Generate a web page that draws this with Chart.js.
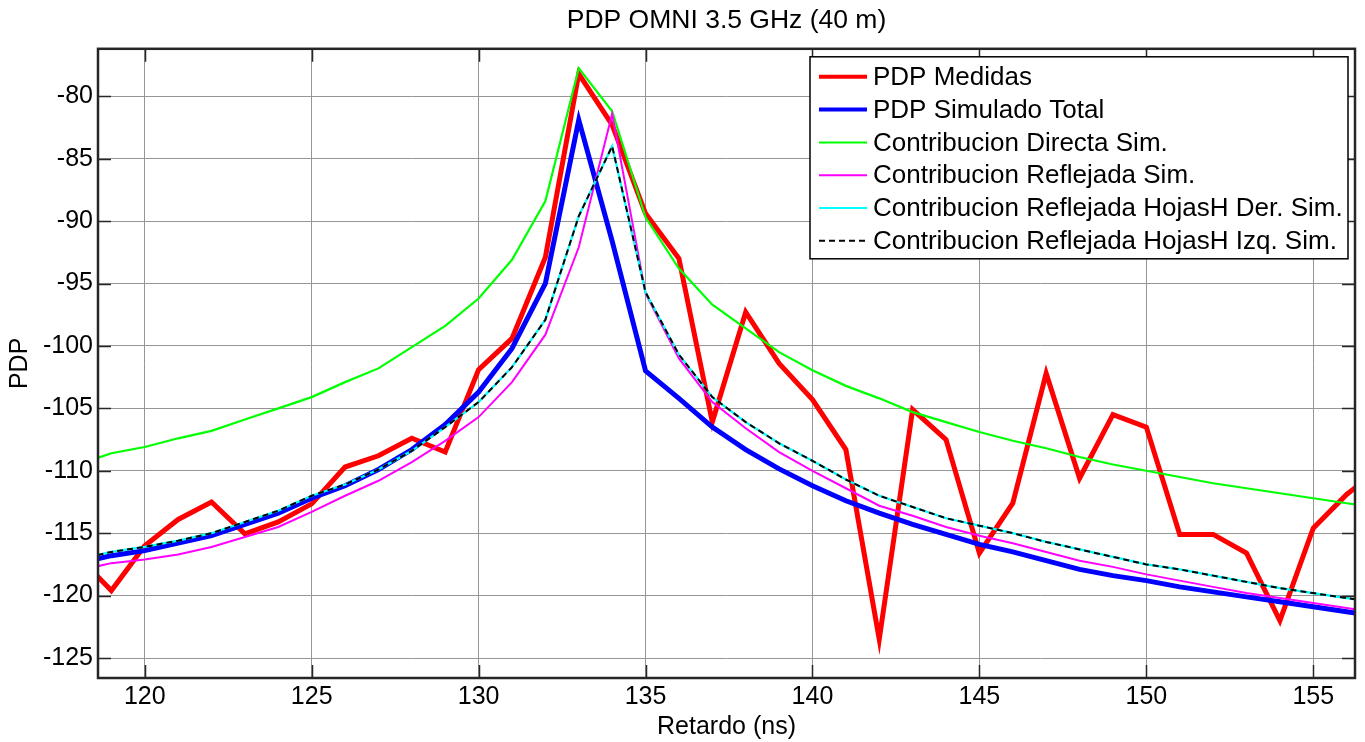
<!DOCTYPE html>
<html>
<head>
<meta charset="utf-8">
<title>PDP OMNI 3.5 GHz (40 m)</title>
<script src="https://cdn.jsdelivr.net/npm/chart.js@4.4.1/dist/chart.umd.min.js"></script>
<style>
    html, body { margin: 0; padding: 0; background: #fff; }
    #wrap { width: 1365px; height: 742px; }
</style>
</head>
<body>
<div id="wrap"><canvas id="pdpChart" width="1365" height="742"></canvas></div>
<script>
// Retardo (ns)
const retardo = [118, 119, 120, 121, 122, 123, 124, 125, 126, 127, 128, 129, 130, 131, 132, 133, 134, 135, 136, 137,
                 138, 139, 140, 141, 142, 143, 144, 145, 146, 147, 148, 149, 150, 151, 152, 153, 154, 155, 156, 157];

const pdpMedidas = [-116.85, -119.6, -116.0, -113.9, -112.5, -115.05, -114.1, -112.65, -109.7, -108.8,
                    -107.4, -108.5, -101.9, -99.4, -92.9, -78.2, -82.3, -89.4, -93.0, -106.1,
                    -97.3, -101.4, -104.3, -108.3, -123.5, -105.1, -107.5, -116.6, -112.6, -102.2,
                    -110.6, -105.5, -106.5, -115.1, -115.1, -116.6, -122.0, -114.6, -111.9, -109.8];

const pdpSimTotal = [-117.4, -116.8, -116.4, -115.8, -115.2, -114.3, -113.4, -112.2, -111.2, -109.9,
                     -108.3, -106.3, -103.7, -100.2, -95.0, -81.9, -91.6, -102.0, -104.2, -106.5,
                     -108.3, -109.85, -111.2, -112.4, -113.4, -114.3, -115.1, -115.9, -116.5, -117.2,
                     -117.9, -118.4, -118.8, -119.3, -119.7, -120.1, -120.5, -120.9, -121.3, -121.7];

const contribDirecta = [-109.5, -108.6, -108.1, -107.4, -106.8, -105.9, -105.0, -104.1, -102.9, -101.8,
                        -100.1, -98.4, -96.2, -93.1, -88.4, -77.75, -81.2, -89.7, -93.8, -96.7,
                        -98.6, -100.5, -101.95, -103.2, -104.2, -105.3, -106.1, -106.9, -107.6, -108.2,
                        -108.9, -109.5, -110.0, -110.5, -111.0, -111.4, -111.8, -112.2, -112.6, -113.0];

const contribReflejada = [-118.0, -117.4, -117.1, -116.7, -116.1, -115.3, -114.5, -113.3, -112.0, -110.8,
                          -109.3, -107.6, -105.7, -102.9, -99.1, -92.1, -81.4, -95.8, -101.0, -104.5,
                          -106.6, -108.5, -110.0, -111.4, -112.8, -113.6, -114.5, -115.2, -115.8, -116.5,
                          -117.2, -117.7, -118.3, -118.8, -119.3, -119.8, -120.2, -120.6, -121.0, -121.4];

const contribHojasDer = [-117.1, -116.5, -116.1, -115.6, -115.0, -114.1, -113.2, -112.0, -111.1, -109.9,
                         -108.4, -106.5, -104.5, -101.7, -97.9, -89.6, -84.0, -95.7, -100.7, -104.1,
                         -106.1, -107.8, -109.2, -110.7, -112.0, -112.9, -113.8, -114.4, -115.0, -115.7,
                         -116.3, -116.9, -117.5, -117.9, -118.4, -118.9, -119.4, -119.8, -120.2, -120.6];

const contribHojasIzq = [-117.1, -116.5, -116.1, -115.6, -115.0, -114.1, -113.2, -112.0, -111.1, -109.9,
                         -108.4, -106.5, -104.5, -101.7, -97.9, -89.6, -84.0, -95.7, -100.7, -104.1,
                         -106.1, -107.8, -109.2, -110.7, -112.0, -112.9, -113.8, -114.4, -115.0, -115.7,
                         -116.3, -116.9, -117.5, -117.9, -118.4, -118.9, -119.4, -119.8, -120.2, -120.6];

const xTicks = [120, 125, 130, 135, 140, 145, 150, 155];
const yTicks = [-80, -85, -90, -95, -100, -105, -110, -115, -120, -125];

const FONT = '"Liberation Sans", Arial, Helvetica, sans-serif';

function toPoints(values) {
    return retardo.map((t, i) => ({ x: t, y: values[i] }));
}

function series(label, values, color, width, order, dash) {
    return {
        label: label,
        data: toPoints(values),
        borderColor: color,
        backgroundColor: color,
        borderWidth: width,
        borderDash: dash || [],
        pointRadius: 0,
        tension: 0,
        fill: false,
        clip: 0,
        order: order
    };
}

// MATLAB style frame: black box with inward ticks on every side
const framePlugin = {
    id: 'matlabFrame',
    afterDatasetsDraw(chart) {
        const { ctx, chartArea: a, scales } = chart;
        const tick = 13;
        ctx.save();
        ctx.strokeStyle = '#262626';
        ctx.lineWidth = 1.5;
        ctx.beginPath();
        xTicks.forEach(v => {
            const px = Math.round(scales.x.getPixelForValue(v)) + 0.5;
            ctx.moveTo(px, a.top); ctx.lineTo(px, a.top + tick);
            ctx.moveTo(px, a.bottom); ctx.lineTo(px, a.bottom - tick);
        });
        yTicks.forEach(v => {
            const py = Math.round(scales.y.getPixelForValue(v)) + 0.5;
            ctx.moveTo(a.left, py); ctx.lineTo(a.left + tick, py);
            ctx.moveTo(a.right, py); ctx.lineTo(a.right - tick, py);
        });
        ctx.stroke();
        ctx.lineWidth = 2.5;
        ctx.strokeRect(a.left, a.top, a.right - a.left, a.bottom - a.top);
        ctx.restore();
    },
    afterDraw(chart) {
        // legend box, top right inside the axes
        const { ctx, chartArea: a } = chart;
        const boxW = 538, boxH = 202;
        const left = a.right - 7 - boxW;
        const top = a.top + 8;
        ctx.save();
        ctx.fillStyle = '#fff';
        ctx.fillRect(left, top, boxW, boxH);
        ctx.strokeStyle = '#000';
        ctx.lineWidth = 1.5;
        ctx.strokeRect(left, top, boxW, boxH);
        ctx.font = '26px ' + FONT;
        ctx.textBaseline = 'middle';
        ctx.fillStyle = '#000';
        chart.data.datasets.forEach((ds, i) => {
            const y = top + 20 + i * 32.8;
            ctx.strokeStyle = ds.borderColor;
            ctx.lineWidth = ds.borderWidth > 3 ? 4 : 2;
            ctx.setLineDash(ds.borderDash.length ? [6, 4] : []);
            ctx.beginPath();
            ctx.moveTo(left + 9, y);
            ctx.lineTo(left + 57, y);
            ctx.stroke();
            ctx.setLineDash([]);
            ctx.fillText(ds.label, left + 63, y + 1);
        });
        ctx.restore();
    }
};

const chart = new Chart(document.getElementById('pdpChart').getContext('2d'), {
    type: 'line',
    data: {
        datasets: [
            series('PDP Medidas', pdpMedidas, '#ff0000', 5, 6),
            series('PDP Simulado Total', pdpSimTotal, '#0000ff', 5, 5),
            series('Contribucion Directa Sim.', contribDirecta, '#00ff00', 2.2, 4),
            series('Contribucion Reflejada Sim.', contribReflejada, '#ff00ff', 2, 3),
            series('Contribucion Reflejada HojasH Der. Sim.', contribHojasDer, '#00ffff', 2.2, 2),
            series('Contribucion Reflejada HojasH Izq. Sim.', contribHojasIzq, '#000000', 2, 1, [6, 4])
        ]
    },
    plugins: [framePlugin],
    options: {
        responsive: false,
        animation: false,
        devicePixelRatio: 1,
        layout: {
            padding: { top: 0, right: 10, bottom: 0, left: 0 }
        },
        plugins: {
            legend: { display: false },
            tooltip: { enabled: false },
            title: {
                display: true,
                fullSize: false,
                text: 'PDP OMNI 3.5 GHz (40 m)',
                color: '#000',
                font: { family: FONT, size: 26.5, weight: 'normal' },
                padding: { top: 5, bottom: 12 }
            }
        },
        scales: {
            x: {
                type: 'linear',
                min: 118.6,
                max: 156.25,
                afterBuildTicks: scale => { scale.ticks = xTicks.map(v => ({ value: v })); },
                afterFit: scale => { scale.height = 64; },
                ticks: {
                    autoSkip: false,
                    maxRotation: 0,
                    padding: 4,
                    color: '#000',
                    font: { family: FONT, size: 25 },
                    callback: v => String(v)
                },
                grid: { color: '#969696', lineWidth: 1, drawTicks: false },
                border: { display: false },
                title: {
                    display: true,
                    text: 'Retardo (ns)',
                    color: '#000',
                    font: { family: FONT, size: 25 },
                    padding: { top: 0, bottom: 0 }
                }
            },
            y: {
                type: 'linear',
                min: -126.6,
                max: -76.2,
                afterBuildTicks: scale => { scale.ticks = yTicks.map(v => ({ value: v })); },
                afterFit: scale => { scale.width = 98; },
                ticks: {
                    autoSkip: false,
                    padding: 5,
                    color: '#000',
                    font: { family: FONT, size: 25 },
                    callback: v => String(v)
                },
                grid: { color: '#969696', lineWidth: 1, drawTicks: false },
                border: { display: false },
                title: {
                    display: true,
                    text: 'PDP',
                    color: '#000',
                    font: { family: FONT, size: 25 },
                    padding: { top: 5, bottom: 0 }
                }
            }
        }
    }
});
</script>
</body>
</html>
